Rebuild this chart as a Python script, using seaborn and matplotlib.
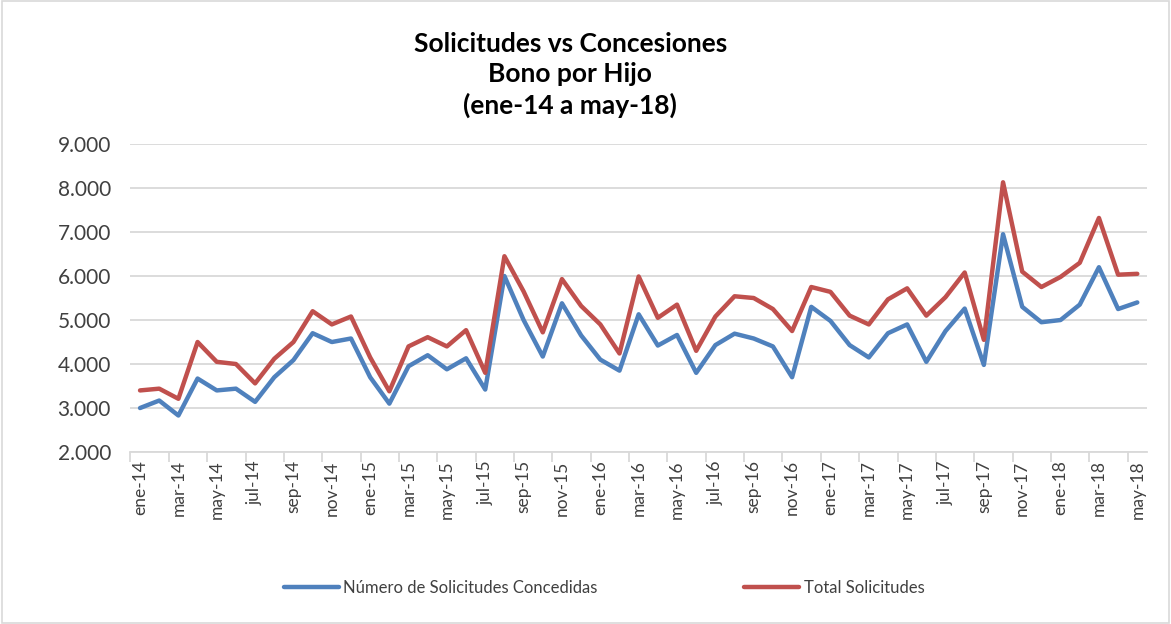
import numpy as np
import pandas as pd
import matplotlib as mpl
import matplotlib.pyplot as plt
import seaborn as sns
from matplotlib.patches import Rectangle

# --- datos ---
meses_abr = ['ene', 'feb', 'mar', 'abr', 'may', 'jun',
             'jul', 'ago', 'sep', 'oct', 'nov', 'dic']
meses = [f'{m}-{a}' for a in ['14', '15', '16', '17', '18'] for m in meses_abr][:53]

concedidas = [3000, 3170, 2830, 3670, 3400, 3440, 3140, 3700, 4090, 4700, 4500, 4580,
              3700, 3100, 3950, 4200, 3880, 4130, 3420, 6000, 5000, 4170, 5380, 4650,
              4100, 3850, 5130, 4420, 4660, 3800, 4430, 4690, 4580, 4400, 3700, 5300,
              4980, 4430, 4150, 4700, 4900, 4050, 4750, 5260, 3980, 6950, 5300, 4950,
              5000, 5350, 6200, 5250, 5400]

total = [3400, 3440, 3210, 4500, 4050, 4000, 3560, 4120, 4500, 5200, 4900, 5080,
         4150, 3380, 4400, 4610, 4400, 4770, 3800, 6450, 5650, 4720, 5930, 5320,
         4900, 4240, 5990, 5050, 5350, 4300, 5080, 5540, 5500, 5250, 4750, 5750,
         5640, 5100, 4900, 5470, 5720, 5100, 5520, 6080, 4550, 8130, 6100, 5750,
         5980, 6300, 7320, 6030, 6050]

series = ['Número de Solicitudes Concedidas', 'Total Solicitudes']
colores = ['#4F81BD', '#C0504D']

df = pd.DataFrame({
    'idx': list(range(len(meses))) * 2,
    'valor': concedidas + total,
    'serie': [series[0]] * len(meses) + [series[1]] * len(meses),
})

sns.set_theme(style='white')
plt.rcParams['font.family'] = ['Lato', 'DejaVu Sans']

fig = plt.figure(figsize=(11.71, 6.24), dpi=100)
ax = fig.add_axes([0.1114, 0.2756, 0.868, 0.4936])

sns.lineplot(data=df, x='idx', y='valor', hue='serie', palette=colores,
             linewidth=3.2, ax=ax, legend=True)

# eje y
ax.set_ylim(2000, 9000)
ax.set_yticks(range(2000, 9001, 1000))
ax.set_yticklabels([f'{v:,}'.replace(',', '.') for v in range(2000, 9001, 1000)],
                   fontsize=15, color='#404040')
ax.yaxis.grid(True, color='#D9D9D9', linewidth=1.3)
ax.set_axisbelow(True)

# eje x: etiquetas cada dos meses, marcas entre categorías
ax.set_xlim(-0.5, len(meses) - 0.5)
pos = list(range(0, len(meses), 2))
ax.set_xticks(pos)
ax.set_xticklabels([meses[i] for i in pos], rotation=90, fontsize=12.5, color='#404040')
ax.set_xticks(np.arange(-0.5, len(meses), 2), minor=True)
ax.tick_params(axis='x', which='major', length=0, pad=6)
ax.tick_params(axis='x', which='minor', length=7, color='#D9D9D9', width=1.3,
               bottom=True)
ax.tick_params(axis='y', length=0, pad=14)
ax.set_xlabel('')
ax.set_ylabel('')

for s in ['top', 'right', 'left']:
    ax.spines[s].set_visible(False)
ax.spines['bottom'].set_color('#D9D9D9')
ax.spines['bottom'].set_linewidth(1.3)

# leyenda abajo
handles, labels = ax.get_legend_handles_labels()
ax.legend(handles, labels, loc='center', bbox_to_anchor=(0.516, 0.058),
          bbox_transform=fig.transFigure, ncol=2, frameon=False,
          fontsize=12, handlelength=3.3, handletextpad=0.25, columnspacing=8.8,
          labelcolor='#404040')

# título
fig.text(0.487, 0.88, 'Solicitudes vs Concesiones\nBono por Hijo\n(ene-14 a may-18)',
         ha='center', va='center', fontsize=19, fontweight='bold',
         linespacing=1.3, color='black')

# marco del gráfico
fig.patches.append(Rectangle((0.002, 0.002), 0.996, 0.996, transform=fig.transFigure,
                             fill=False, edgecolor='#D9D9D9', linewidth=1.2))

fig.savefig('out.png', dpi=100, facecolor='white')
